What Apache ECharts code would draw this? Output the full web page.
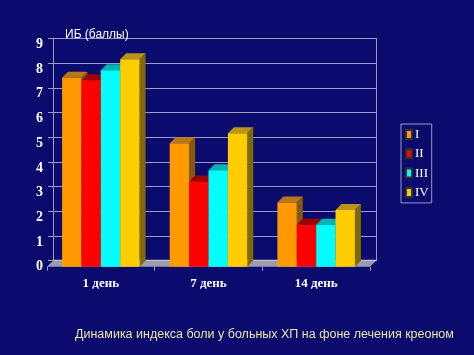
<!DOCTYPE html>
<html><head><meta charset="utf-8">
<script src="https://cdn.jsdelivr.net/npm/echarts@6/dist/echarts.min.js"></script>
<style>html,body{margin:0;padding:0;background:#0b0b6e;}#c{width:474px;height:355px;}</style>
</head><body><div id="c"></div>
<script>
const categories = ['1 день', '7 день', '14 день'];
const seriesNames = ['I', 'II', 'III', 'IV'];
const valuesI = [7.65, 5.0, 2.6];
const valuesII = [7.55, 3.45, 1.7];
const valuesIII = [7.95, 3.9, 1.7];
const valuesIV = [8.4, 5.4, 2.3];
const yTicks = [0, 1, 2, 3, 4, 5, 6, 7, 8, 9];
const axisTitle = 'ИБ (баллы)';
const caption = 'Динамика индекса боли у больных ХП на фоне лечения креоном';

const allValues = [valuesI, valuesII, valuesIII, valuesIV];
const fronts = ['#ff9900', '#ff0000', '#00ffff', '#ffcc00'];
const tops = ['#b87818', '#a00000', '#00b4b4', '#b89418'];
const sides = ['#85580a', '#7a0000', '#008a8a', '#806a08'];
const DX = 6, DY = -6;

const chart = echarts.init(document.getElementById('c'));

function barRenderer(k) {
  return function (params, api) {
    const cat = api.value(0), v = api.value(1);
    const base = api.coord([cat, 0]);
    const top = api.coord([cat, v]);
    const band = api.size([1, 0])[0];
    const w = band * 0.18;
    const x = base[0] - 2 * w + k * w;
    const yt = top[1], yb = base[1];
    return {
      type: 'group',
      children: [
        { type: 'polygon', shape: { points: [[x + w, yt], [x + w + DX, yt + DY], [x + w + DX, yb + DY], [x + w, yb]] },
          style: { fill: sides[k] } },
        { type: 'polygon', shape: { points: [[x, yt], [x + DX, yt + DY], [x + w + DX, yt + DY], [x + w, yt]] },
          style: { fill: tops[k] } },
        { type: 'rect', shape: { x: x, y: yt, width: w, height: yb - yt },
          style: { fill: fronts[k] } }
      ]
    };
  };
}

const series = [{
  type: 'custom', xAxisIndex: 0, yAxisIndex: 0, silent: true, z: 1,
  data: [[0, 0]],
  renderItem: function (params, api) {
    const cs = params.coordSys;
    const yb = cs.y + cs.height, x0 = cs.x, x1 = cs.x + cs.width;
    return {
      type: 'group', children: [
        { type: 'polygon', shape: { points: [[x0, yb], [x0 + DX, yb + DY], [x1 + DX, yb + DY], [x1, yb]] },
          style: { fill: '#9c9cac' } },
        { type: 'polygon', shape: { points: [[x0 + DX, yb + DY], [x0 + DX, yb + DY - 1], [x1 + DX, yb + DY - 1], [x1 + DX, yb + DY]] },
          style: { fill: '#c8c8d0' } }
      ]
    };
  }
}];
seriesNames.forEach(function (name, k) {
  series.push({
    type: 'custom', name: name, xAxisIndex: 0, yAxisIndex: 0, z: 2,
    itemStyle: { color: fronts[k], borderColor: '#303030', borderWidth: 0.5 },
    data: allValues[k].map(function (v, i) { return [i, v]; }),
    renderItem: barRenderer(k)
  });
});

chart.setOption({
  backgroundColor: '#0b0b6e',
  animation: false,
  title: [
    { text: axisTitle, left: 60, top: 24, textStyle: { color: '#ffffff', fontFamily: 'Liberation Sans', fontSize: 12, fontWeight: 'normal' } },
    { text: caption, left: 70, top: 323, textStyle: { color: '#ebe4a6', fontFamily: 'Liberation Sans', fontSize: 12.5, fontWeight: 'normal' } }
  ],
  legend: {
    orient: 'vertical', left: 401, top: 124,
    data: seriesNames,
    itemWidth: 6, itemHeight: 9, itemGap: 6.3, icon: 'rect',
    padding: [4, 3, 4, 4],
    borderColor: '#9a9ac8', borderWidth: 1,
    textStyle: { color: '#ffffff', fontFamily: 'Liberation Serif', fontSize: 13, padding: [0, 0, 0, -2] }
  },
  grid: [
    { left: 47, top: 44.4, width: 323, height: 222.3 },
    { left: 47 + DX, top: 44.4 + DY, width: 323, height: 222.3 }
  ],
  xAxis: [
    { type: 'category', gridIndex: 0, data: categories, boundaryGap: true,
      axisLine: { show: false },
      axisTick: { show: true, length: 4, lineStyle: { color: '#9a9ac8' } },
      axisLabel: { color: '#ffffff', fontFamily: 'Liberation Serif', fontWeight: 'bold', fontSize: 13, margin: 10 } },
    { type: 'category', gridIndex: 1, data: categories, show: false }
  ],
  yAxis: [
    { type: 'value', gridIndex: 0, min: 0, max: 9, interval: 1,
      axisLine: { show: false }, axisTick: { show: false }, splitLine: { show: false },
      axisLabel: { color: '#ffffff', fontFamily: 'Liberation Serif', fontWeight: 'bold', fontSize: 14, margin: 4,
        formatter: function (v) { return yTicks.indexOf(v) >= 0 ? String(v) : ''; } } },
    { type: 'value', gridIndex: 1, min: 0, max: 9, interval: 1,
      axisLine: { show: true, lineStyle: { color: '#9a9ac8' } },
      axisTick: { show: true, length: 5, lineStyle: { color: '#9a9ac8' } },
      axisLabel: { show: false },
      splitLine: { show: true, lineStyle: { color: '#9a9ac8', width: 1 } } },
    { type: 'value', gridIndex: 1, min: 0, max: 9, interval: 1, position: 'right',
      axisLine: { show: true, lineStyle: { color: '#9a9ac8' } },
      axisTick: { show: false }, axisLabel: { show: false }, splitLine: { show: false } }
  ],
  series: series
});
</script></body></html>
